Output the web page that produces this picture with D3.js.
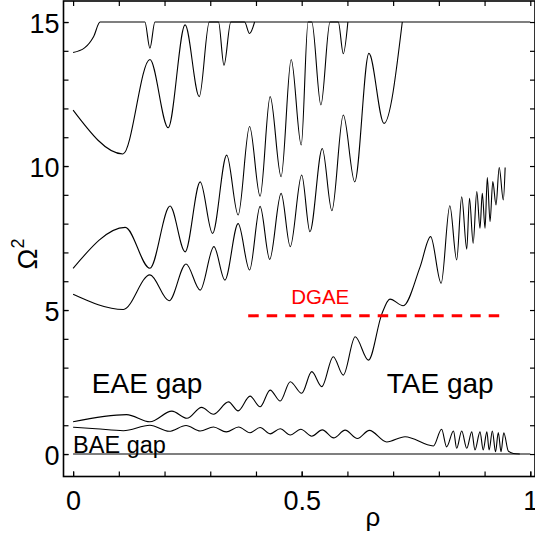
<!DOCTYPE html>
<html>
<head>
<meta charset="utf-8">
<script src="https://cdn.jsdelivr.net/npm/d3@7"></script>
<style>
    body { margin: 0; background: #fff; }
    #chart-area { width: 535px; height: 537px; }
    .axis text { font-family: "Liberation Sans", Arial, sans-serif; font-size: 27px; fill: #000; }
    .axis line { stroke: #000; stroke-width: 1.2; }
    .axis path { display: none; }
    .branch { fill: none; stroke: #000; stroke-width: 1.1; }
    .plot-text { font-family: "Liberation Sans", Arial, sans-serif; fill: #000; }
</style>
</head>
<body>
<div id="chart-area"></div>
<script>
// tick values
const xTickLabels = [0, 0.5, 1];
const yTickLabels = [0, 5, 10, 15];
const xMinorTicks = [0, 0.1, 0.2, 0.3, 0.4, 0.5, 0.6, 0.7, 0.8, 0.9, 1];
const yMinorTicks = [0, 1, 2, 3, 4, 5, 6, 7, 8, 9, 10, 11, 12, 13, 14, 15];

// continuum branches (rho, Omega^2)
const rhoZero = [0, 1];
const omZero = [0, 0];

const rhoA = [0, 0.05, 0.11, 0.168, 0.21, 0.247, 0.278, 0.307, 0.335, 0.362, 0.387, 0.409, 0.431, 0.453, 0.475, 0.498, 0.522, 0.545, 0.57, 0.595, 0.622, 0.648, 0.686, 0.726, 0.788, 0.806, 0.817, 0.832, 0.839, 0.85, 0.861, 0.872, 0.879, 0.89, 0.897, 0.905, 0.91, 0.917, 0.924, 0.93, 0.936, 0.942, 0.952, 0.963, 0.977];
const omA = [0.93, 0.88, 0.81, 1.0, 0.79, 0.99, 0.8, 0.94, 0.77, 0.94, 0.74, 0.92, 0.7, 0.88, 0.66, 0.86, 0.62, 0.84, 0.56, 0.83, 0.54, 0.82, 0.42, 0.6, 0.28, 0.86, 0.25, 0.8, 0.2, 0.8, 0.2, 0.77, 0.14, 0.77, 0.14, 0.77, 0.14, 0.8, 0.08, 0.75, 0.08, 0.74, 0.1, 0.02, 0];

const rhoB = [0, 0.117, 0.168, 0.216, 0.249, 0.281, 0.307, 0.34, 0.361, 0.387, 0.409, 0.431, 0.453, 0.475, 0.5, 0.522, 0.544, 0.569, 0.591, 0.617, 0.646, 0.675, 0.693, 0.722, 0.759, 0.782, 0.805, 0.824, 0.839, 0.85, 0.861, 0.867, 0.875, 0.883, 0.89, 0.895, 0.901, 0.906, 0.912, 0.918, 0.925, 0.932, 0.941, 0.945];
const omB = [1.12, 1.37, 1.12, 1.49, 1.24, 1.62, 1.38, 1.81, 1.5, 2.01, 1.64, 2.22, 1.84, 2.51, 2.11, 2.86, 2.34, 3.38, 2.74, 4.07, 3.26, 4.85, 5.38, 5.15, 6.5, 7.55, 5.93, 8.62, 6.74, 8.93, 7.11, 8.88, 7.32, 9.11, 7.84, 9.05, 7.84, 9.6, 8.07, 9.46, 8.65, 9.95, 8.82, 9.95];

const rhoC = [0, 0.11, 0.168, 0.21, 0.247, 0.278, 0.308, 0.332, 0.361, 0.386, 0.409, 0.43, 0.455, 0.475, 0.5, 0.518, 0.545, 0.566, 0.591, 0.616, 0.647, 0.68, 0.72];
const omC = [5.55, 5.02, 6.22, 5.32, 6.6, 5.69, 7.2, 6.04, 8.0, 6.39, 8.6, 6.76, 9.05, 7.2, 9.69, 7.72, 10.61, 8.45, 11.77, 9.45, 13.91, 11.48, 15];

const rhoD = [0, 0.114, 0.168, 0.212, 0.245, 0.278, 0.305, 0.336, 0.361, 0.386, 0.409, 0.431, 0.455, 0.477, 0.499, 0.514, 0.522, 0.542, 0.562, 0.58, 0.591, 0.601];
const omD = [6.45, 7.87, 6.45, 8.61, 7.02, 9.45, 7.66, 10.38, 8.3, 11.37, 8.95, 12.41, 9.63, 13.7, 10.73, 15, 15, 12.12, 15, 15, 13.9, 15];

const rhoE = [0, 0.109, 0.168, 0.208, 0.245, 0.276, 0.298, 0.318, 0.33, 0.345, 0.375, 0.386, 0.397];
const omE = [11.94, 10.42, 13.7, 11.33, 14.9, 12.41, 15, 15, 13.5, 15, 15, 14.6, 15];

const rhoF = [0, 0.025, 0.045, 0.059, 0.157, 0.168, 0.179, 1.0];
const omF = [13.94, 14.1, 14.5, 15, 15, 14.09, 15, 15];

// DGAE frequency line
const rhoDgae = [0.383, 0.944];
const omDgae = [4.8, 4.8];

class ContinuumPlot {
    constructor(parentElement) {
        this.parentElement = parentElement;
        this.branches = [
            [rhoZero, omZero], [rhoA, omA], [rhoB, omB], [rhoC, omC],
            [rhoD, omD], [rhoE, omE], [rhoF, omF]
        ].map(([r, o]) => r.map((d, i) => ({ rho: d, om: o[i] })));
        this.initVis();
    }

    initVis() {
        let vis = this;

        vis.margin = { top: 1, right: 0, bottom: 60.5, left: 63.5 };
        vis.width = 535 - vis.margin.left - vis.margin.right;
        vis.height = 537 - vis.margin.top - vis.margin.bottom;

        vis.svg = d3.select("#" + vis.parentElement)
            .append("svg")
            .attr("width", 535)
            .attr("height", 537)
            .append("g")
            .attr("transform", `translate(${vis.margin.left},${vis.margin.top})`);

        // scales (axis box runs a bit past 0..1 and 0..15)
        vis.x = d3.scaleLinear().domain([-0.021, 1.0103]).range([0, vis.width]);
        vis.y = d3.scaleLinear().domain([-0.78, 15.73]).range([vis.height, 0]);

        vis.svg.append("clipPath").attr("id", "clip")
            .append("rect").attr("width", vis.width).attr("height", vis.height);

        // minor ticks on all four sides, pointing inward
        vis.svg.append("g").attr("class", "axis")
            .attr("transform", `translate(0,${vis.height})`)
            .call(d3.axisBottom(vis.x).tickValues(xMinorTicks).tickSize(-5).tickFormat(""));
        vis.svg.append("g").attr("class", "axis")
            .call(d3.axisTop(vis.x).tickValues(xMinorTicks).tickSize(-5).tickFormat(""));
        vis.svg.append("g").attr("class", "axis")
            .call(d3.axisLeft(vis.y).tickValues(yMinorTicks).tickSize(-5).tickFormat(""));
        vis.svg.append("g").attr("class", "axis")
            .attr("transform", `translate(${vis.width},0)`)
            .call(d3.axisRight(vis.y).tickValues(yMinorTicks).tickSize(-5).tickFormat(""));

        // labelled ticks
        vis.svg.append("g").attr("class", "axis x-axis")
            .attr("transform", `translate(0,${vis.height})`)
            .call(d3.axisBottom(vis.x).tickValues(xTickLabels).tickSize(-5).tickPadding(14)
                .tickFormat(d => String(d)));
        vis.svg.append("g").attr("class", "axis y-axis")
            .call(d3.axisLeft(vis.y).tickValues(yTickLabels).tickSize(-5).tickPadding(4)
                .tickFormat(d => String(d)));
        vis.svg.selectAll(".y-axis text").attr("dy", "0.38em");

        // frame
        vis.svg.append("rect")
            .attr("width", vis.width).attr("height", vis.height)
            .attr("fill", "none").attr("stroke", "#000").attr("stroke-width", 1.6);

        // axis titles
        vis.svg.append("text")
            .attr("class", "plot-text")
            .attr("x", 373 - vis.margin.left)
            .attr("y", 526 - vis.margin.top)
            .attr("text-anchor", "middle")
            .attr("font-size", 26)
            .text("ρ");

        let yTitle = vis.svg.append("text")
            .attr("class", "plot-text")
            .attr("transform", `translate(${37 - vis.margin.left},${254 - vis.margin.top}) rotate(-90)`)
            .attr("text-anchor", "middle")
            .attr("font-size", 28);
        yTitle.append("tspan").text("Ω");
        yTitle.append("tspan").attr("font-size", 18).attr("dy", "-0.7em").text("2");

        vis.line = d3.line()
            .x(d => vis.x(d.rho))
            .y(d => vis.y(d.om))
            .curve(d3.curveMonotoneX);

        vis.updateVis();
    }

    updateVis() {
        let vis = this;

        vis.svg.append("g")
            .attr("clip-path", "url(#clip)")
            .selectAll(".branch")
            .data(vis.branches)
            .enter().append("path")
            .attr("class", "branch")
            .attr("d", vis.line);

        // DGAE dashed line
        vis.svg.append("path")
            .datum(rhoDgae.map((d, i) => ({ rho: d, om: omDgae[i] })))
            .attr("fill", "none")
            .attr("stroke", "#ff0000")
            .attr("stroke-width", 3)
            .attr("stroke-dasharray", "10.5,8")
            .attr("d", d3.line().x(d => vis.x(d.rho)).y(d => vis.y(d.om)));

        // gap labels
        const labels = [
            { text: "EAE gap", rho: 0.041, om: 2.12, size: 28, color: "#000" },
            { text: "TAE gap", rho: 0.686, om: 2.12, size: 28, color: "#000" },
            { text: "BAE gap", rho: 0.0, om: 0.05, size: 23.5, color: "#000" },
            { text: "DGAE", rho: 0.477, om: 5.21, size: 20.5, color: "#ff0000" }
        ];
        vis.svg.selectAll(".gap-label")
            .data(labels)
            .enter().append("text")
            .attr("class", "plot-text gap-label")
            .attr("x", d => vis.x(d.rho))
            .attr("y", d => vis.y(d.om))
            .attr("font-size", d => d.size)
            .style("fill", d => d.color)
            .text(d => d.text);
    }
}

new ContinuumPlot("chart-area");
</script>
</body>
</html>
